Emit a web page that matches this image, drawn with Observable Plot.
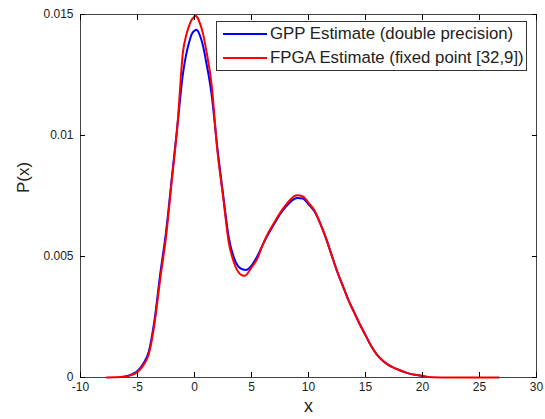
<!DOCTYPE html>
<html>
<head>
<meta charset="utf-8">
<script src="https://cdn.jsdelivr.net/npm/d3@7"></script>
<script src="https://cdn.jsdelivr.net/npm/@observablehq/plot@0.6"></script>
<style>
  body { margin: 0; background: #fff; font-family: Arial, "Liberation Sans", sans-serif; }
  #wrap { position: relative; width: 545px; height: 419px; }
  #legend { position: absolute; left: 216px; top: 21px; width: 309px; height: 48px;
            border: 1px solid #333; background: #fff; font-size: 16.8px; color: #222; }
  .row { position: absolute; left: 0; height: 22px; display: flex; align-items: center; white-space: nowrap; }
  .sw { width: 44px; height: 2px; margin-left: 6px; margin-right: 3px; }
</style>
</head>
<body>
<div id="wrap"></div>
<script>
// Series names and colours
const seriesNames = ["GPP Estimate (double precision)", "FPGA Estimate (fixed point [32,9])"];
const seriesColors = ["#0000ff", "#ff0000"];

// Axis ticks
const xTicks = [-10, -5, 0, 5, 10, 15, 20, 25, 30];
const yTicks = [0, 0.005, 0.01, 0.015];
const yTickLabels = ["0", "0.005", "0.01", "0.015"];

// GPP estimate (blue)
const gppX = [-6.5, -6, -5.5, -5, -4.5, -4, -3.5, -3, -2.5, -2, -1.5, -1, -0.75, -0.5, -0.25, 0, 0.15, 0.3, 0.5, 0.75, 1, 1.5, 2, 2.5, 3, 3.5, 4, 4.5, 5, 5.5, 6, 6.5, 7, 7.5, 8, 8.5, 9, 9.5, 10, 10.5, 11, 11.5, 12, 12.5, 13, 13.5, 14, 14.5, 15, 15.5, 16, 16.5, 17, 17.5, 18, 18.5, 19, 19.5, 20, 20.5];
const gppY = [0.00002, 0.00005, 0.00013, 0.00027, 0.00057, 0.00108, 0.0024, 0.0043, 0.006, 0.0082, 0.0104, 0.0126, 0.0133, 0.0138, 0.01418, 0.01433, 0.01437, 0.01432, 0.0141, 0.0137, 0.0131, 0.0117, 0.0095, 0.0076, 0.0058, 0.0049, 0.00452, 0.00444, 0.00462, 0.005, 0.0055, 0.00595, 0.00635, 0.00675, 0.00705, 0.0073, 0.00742, 0.0074, 0.00716, 0.00688, 0.0064, 0.0058, 0.0051, 0.0044, 0.0038, 0.0032, 0.0027, 0.0022, 0.00175, 0.0013, 0.00095, 0.0007, 0.00052, 0.0004, 0.0003, 0.00021, 0.00014, 0.0001, 0.00006, 0.00002];

// FPGA estimate (red)
const fpgaX = [-7.7, -7, -6.5, -6, -5.5, -5, -4.5, -4, -3.5, -3, -2.5, -2, -1.5, -1, -0.75, -0.5, -0.25, 0, 0.1, 0.25, 0.5, 0.75, 1, 1.5, 2, 2.5, 3, 3.5, 4, 4.4, 5, 5.5, 6, 6.5, 7, 7.5, 8, 8.5, 9, 9.5, 10, 10.5, 11, 11.5, 12, 12.5, 13, 13.5, 14, 14.5, 15, 15.5, 16, 16.5, 17, 17.5, 18, 18.5, 19, 19.5, 20, 20.5, 21, 22, 23, 24, 25, 26, 26.7];
const fpgaY = [0, 0.00001, 0.00002, 0.00004, 0.00011, 0.00023, 0.0005, 0.00098, 0.00225, 0.0041, 0.0058, 0.0081, 0.0104, 0.0135, 0.0141, 0.0145, 0.01478, 0.01492, 0.01495, 0.01488, 0.0146, 0.0142, 0.0136, 0.0121, 0.0094, 0.0075, 0.0056, 0.0047, 0.00428, 0.0042, 0.00455, 0.0049, 0.0055, 0.006, 0.0064, 0.0068, 0.00712, 0.0074, 0.00753, 0.00748, 0.00722, 0.00692, 0.0064, 0.0058, 0.0051, 0.0044, 0.0038, 0.0032, 0.0027, 0.0022, 0.00175, 0.0013, 0.00095, 0.0007, 0.00052, 0.0004, 0.0003, 0.00021, 0.00014, 0.0001, 0.00006, 0.00002, 0.00001, 0, 0, 0, 0, 0, 0];

const gppRows = gppX.map((x, i) => ({x, y: gppY[i]}));
const fpgaRows = fpgaX.map((x, i) => ({x, y: fpgaY[i]}));
const yLabelMap = new Map(yTicks.map((t, i) => [t, yTickLabels[i]]));

const chart = Plot.plot({
  width: 545,
  height: 419,
  marginLeft: 80,
  marginRight: 9,
  marginTop: 14,
  marginBottom: 42,
  x: {domain: [-10, 30]},
  y: {domain: [0, 0.015]},
  style: {fontFamily: "Arial, 'Liberation Sans', sans-serif", fontSize: "12px", color: "#222", background: "#fff"},
  marks: [
    Plot.line(gppRows, {x: "x", y: "y", stroke: seriesColors[0], strokeWidth: 2, curve: "monotone-x"}),
    Plot.line(fpgaRows, {x: "x", y: "y", stroke: seriesColors[1], strokeWidth: 2, curve: "monotone-x"}),
    Plot.frame({stroke: "#444"}),
    Plot.axisX(xTicks, {anchor: "bottom", tickSize: -5, tickPadding: 10, label: null, tickFormat: d => String(d), stroke: "#000"}),
    Plot.axisX(xTicks, {anchor: "top", tickSize: -5, label: null, tickFormat: () => "", stroke: "#000"}),
    Plot.axisY(yTicks, {anchor: "left", tickSize: -5, tickPadding: 12, label: null, tickFormat: d => yLabelMap.get(d), stroke: "#000"}),
    Plot.axisY(yTicks, {anchor: "right", tickSize: -5, label: null, tickFormat: () => "", stroke: "#000"}),
    Plot.text(["x"], {frameAnchor: "bottom", dy: 34, fontSize: 18, fill: "#222"}),
    Plot.text(["P(x)"], {frameAnchor: "left", dx: -57, dy: -3, rotate: -90, fontSize: 17, fill: "#222"})
  ]
});

const wrap = document.getElementById("wrap");
wrap.appendChild(chart);

const legend = document.createElement("div");
legend.id = "legend";
seriesNames.forEach((name, i) => {
  const row = document.createElement("div");
  row.className = "row";
  row.style.top = (i === 0 ? 1 : 25) + "px";
  const sw = document.createElement("div");
  sw.className = "sw";
  sw.style.background = seriesColors[i];
  const t = document.createElement("span");
  t.textContent = name;
  row.appendChild(sw);
  row.appendChild(t);
  legend.appendChild(row);
});
wrap.appendChild(legend);
</script>
</body>
</html>
